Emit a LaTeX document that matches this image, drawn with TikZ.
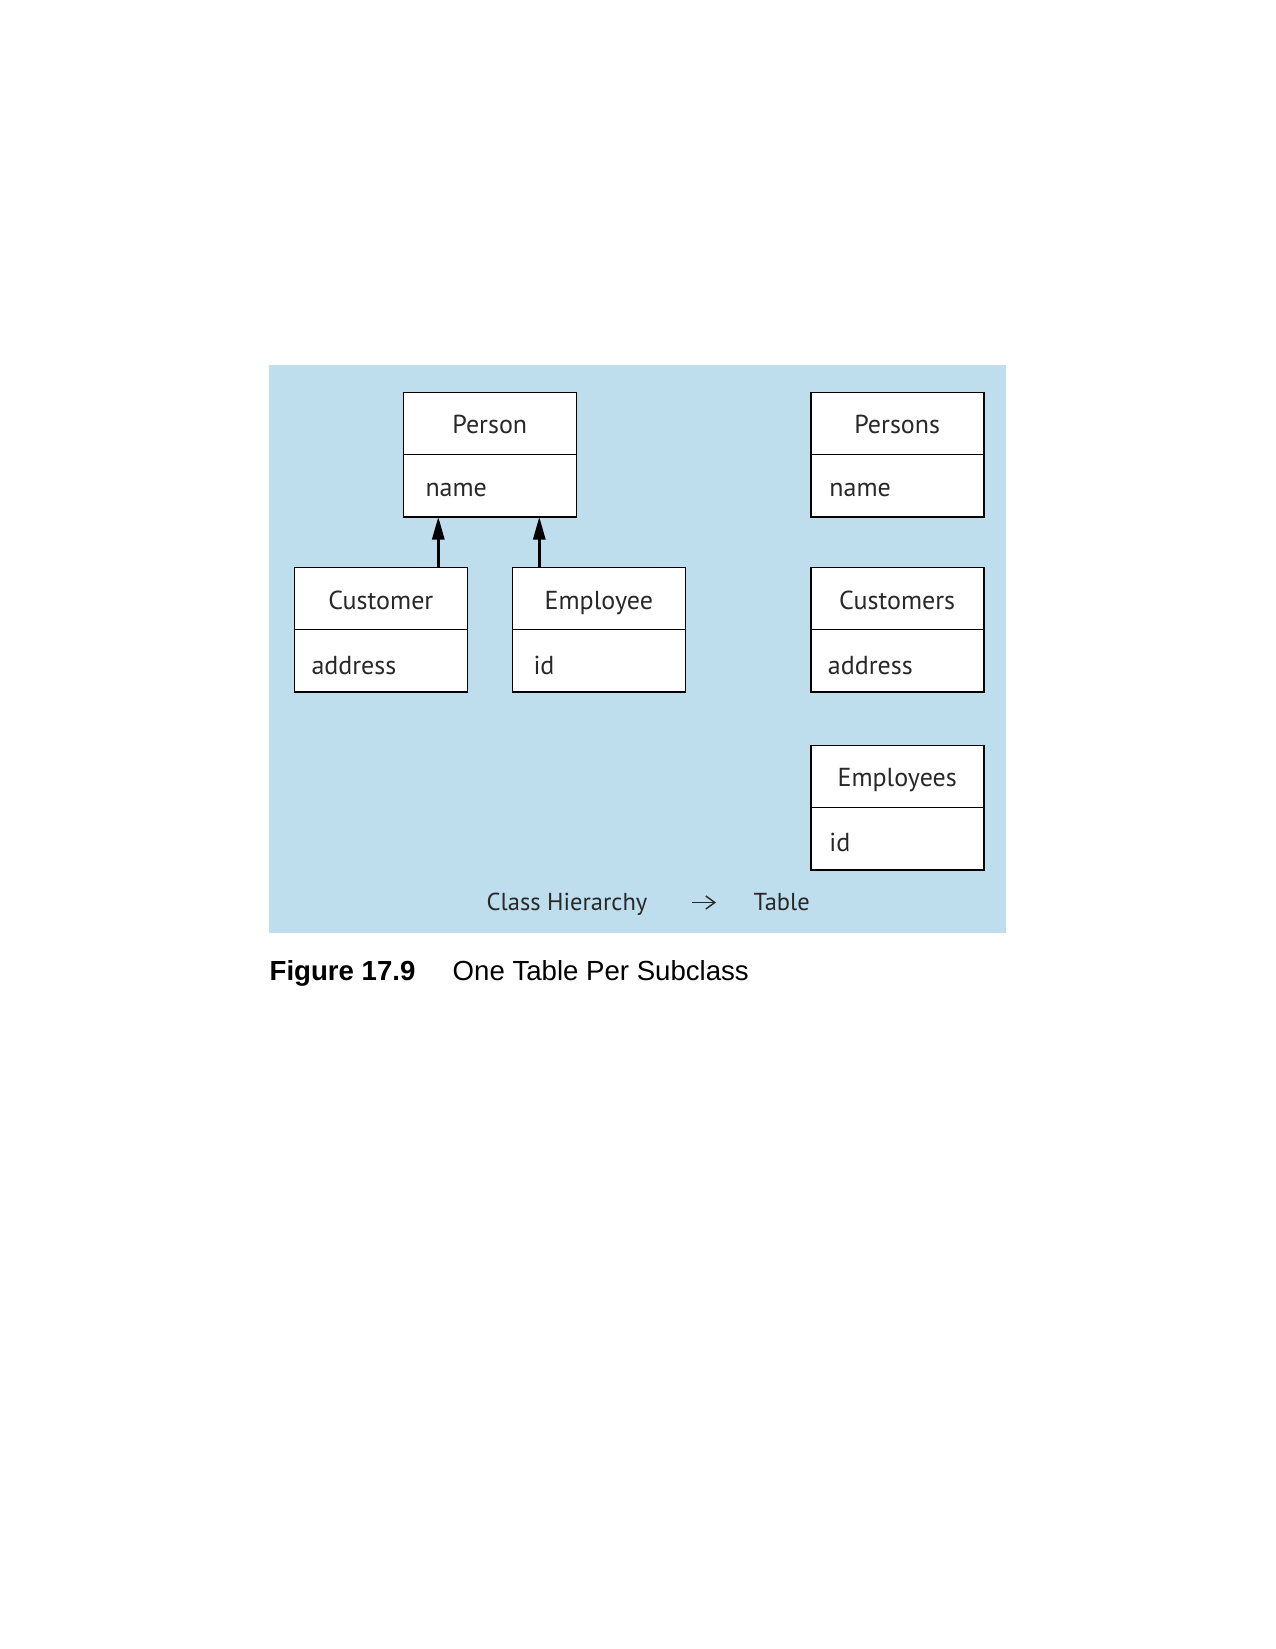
\documentclass[tikz,border=0pt]{standalone}
\usepackage{fontspec}
\setmainfont{PT Sans}
\newfontfamily\capfont{Liberation Sans}
\usetikzlibrary{arrows.meta}
\definecolor{bgblue}{RGB}{190,222,238}
\definecolor{txt}{RGB}{40,40,40}
\begin{document}
\begin{tikzpicture}[x=1pt,y=-1pt,
  box/.style={draw=black, line width=1.6pt, fill=white, minimum width=173pt, minimum height=124.4pt, inner sep=0pt, outer sep=0pt, anchor=north west},
  divider/.style={line width=1.6pt},
  ttl/.style={font=\fontsize{26}{31}\selectfont, text=txt, anchor=base, inner sep=0pt},
  att/.style={font=\fontsize{26}{31}\selectfont, text=txt, anchor=base west, inner sep=0pt},
  lbl/.style={font=\fontsize{24.5}{29}\selectfont, text=txt, anchor=base west, inner sep=0pt},
  inh/.style={line width=3pt, -{Triangle[length=23pt,width=12pt]}},
  capbold/.style={font=\capfont\bfseries\fontsize{27.6}{33}\selectfont, anchor=base west, inner sep=0pt},
  capnorm/.style={font=\capfont\fontsize{27.6}{33}\selectfont, anchor=base west, inner sep=0pt}]
\useasboundingbox (0,0) rectangle (1275,1649);
\fill[white] (0,0) rectangle (1275,1649);
\fill[bgblue] (269,365) rectangle (1006,933);

% class boxes
\node[box] (person) at (403.3,392.3) {};
\node[box] (customer) at (294.3,567.5) {};
\node[box] (employee) at (512.3,567.5) {};
% table boxes
\node[box] (persons) at (810.7,392.3) {};
\node[box] (customers) at (810.7,567.5) {};
\node[box] (employees) at (810.7,745.3) {};

\foreach \b in {person,customer,employee,persons,customers,employees}{
  \draw[divider] ([yshift=-62pt]\b.north west) -- ([yshift=-62pt]\b.north east);
}

\node[ttl] (personT) at ([yshift=-41.5pt]person.north) {Person};
\node[att] (personA) at ([xshift=22pt,yshift=-104pt]person.north west) {name};
\node[ttl] (customerT) at ([yshift=-41.5pt]customer.north) {Customer};
\node[att] (customerA) at ([xshift=17pt,yshift=-106.5pt]customer.north west) {address};
\node[ttl] (employeeT) at ([yshift=-41.5pt]employee.north) {Employee};
\node[att] (employeeA) at ([xshift=21pt,yshift=-106.5pt]employee.north west) {id};

\node[ttl] (personsT) at ([yshift=-41.5pt]persons.north) {Persons};
\node[att] (personsA) at ([xshift=18.5pt,yshift=-104pt]persons.north west) {name};
\node[ttl] (customersT) at ([yshift=-41.5pt]customers.north) {Customers};
\node[att] (customersA) at ([xshift=17pt,yshift=-106.5pt]customers.north west) {address};
\node[ttl] (employeesT) at ([yshift=-41.5pt]employees.north) {Employees};
\node[att] (employeesA) at ([xshift=18.5pt,yshift=-106.5pt]employees.north west) {id};

% inheritance arrows
\coordinate (a1) at (438.3,0);
\coordinate (a2) at (539.3,0);
\draw[inh] (a1 |- customer.north) -- (a1 |- person.south);
\draw[inh] (a2 |- employee.north) -- (a2 |- person.south);

% bottom legend
\node[lbl] (ch) at (486.5,910) {Class Hierarchy};
\node[lbl] (tb) at (753.5,910) {Table};
\coordinate (ar1) at (692,902.5);
\coordinate (ar2) at (716,902.5);
\draw[line width=1.4pt, draw=txt, -{Straight Barb[length=9pt,width=13pt]}] (ar1) -- (ar2);

% caption
\node[capbold] (fig) at (269.5,980.5) {Figure 17.9};
\node[capnorm] (capt) at (452.5,980.5) {One Table Per Subclass};
\end{tikzpicture}
\end{document}
